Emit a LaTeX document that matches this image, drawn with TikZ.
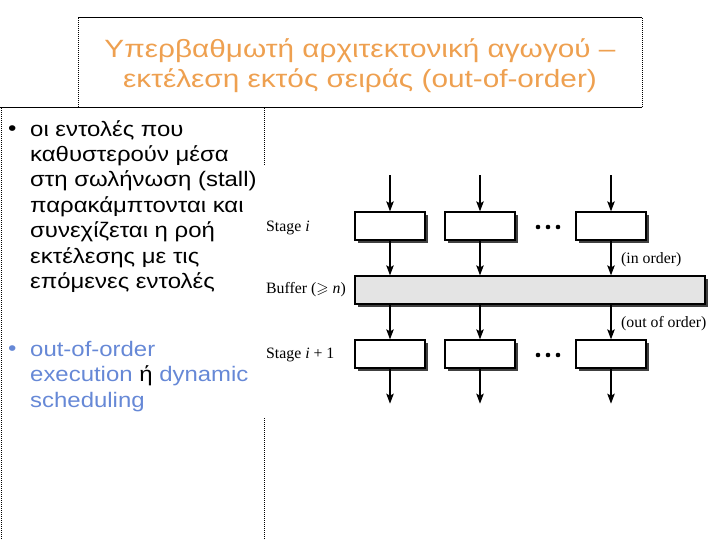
\documentclass[tikz,border=0pt]{standalone}
\usepackage{amssymb}
\usepackage{fontspec}
\setmainfont{Liberation Sans}
\newfontfamily\widesans[FakeStretch=1.14]{Liberation Sans}
\newfontfamily\ttlsans[FakeStretch=1.19]{Liberation Sans}
\newfontfamily\tms{Liberation Serif}
\usetikzlibrary{arrows.meta,shadows}
\definecolor{ttlorange}{RGB}{238,160,80}
\definecolor{txtblue}{RGB}{102,136,214}
\definecolor{bufgray}{RGB}{228,228,228}
\tikzset{
  frameline/.style={line width=1pt},
  dotline/.style={line width=1pt, dash pattern=on 1pt off 1pt},
  stagebox/.style={draw, line width=1.3pt, fill=white, minimum width=70pt, minimum height=28pt, inner sep=0pt,
     copy shadow={shadow xshift=3pt, shadow yshift=-3pt, fill=black!75, draw=none}},
  bufbox/.style={draw, line width=1.3pt, fill=bufgray, minimum width=350pt, minimum height=28pt, inner sep=0pt,
     copy shadow={shadow xshift=3pt, shadow yshift=-3pt, fill=black!75, draw=none}},
  flow/.style={line width=1.1pt, -{Stealth[length=10pt,width=7.5pt,inset=2pt]}},
  lbl/.style={font=\tms\fontsize{15.8}{18}\selectfont, inner sep=0pt},
  bodytext/.style={font=\widesans\fontsize{21}{25.4}\selectfont, inner sep=0pt},
  bigdot/.style={circle, fill=black, inner sep=0pt, minimum size=4.6pt}
}
\begin{document}
\begin{tikzpicture}[x=1pt,y=-1pt]
\useasboundingbox (0,0) rectangle (720,540);
% title frame
\draw[frameline] (78,18) -- (642,18);
\draw[frameline] (0,108) -- (642,108);
\draw[dotline] (78,18) -- (78,108);
\draw[dotline] (642,18) -- (642,108);
% text frame
\draw[dotline] (1,108) -- (1,540);
\draw[dotline] (264,108) -- (264,166);
\draw[dotline] (264,418) -- (264,540);
% title
\node[ttlorange, align=center, font=\ttlsans\fontsize{25}{30}\selectfont, inner sep=0pt] (title) at (360,66)
  {Υπερβαθμωτή αρχιτεκτονική αγωγού –\\εκτέλεση εκτός σειράς (out-of-order)};
% bullets
\node[bodytext, anchor=west] (b1) at (8,131) {•};
\node[bodytext, align=left, anchor=north west] (t1) at (30,120)
  {οι εντολές που\\καθυστερούν μέσα\\στη σωλήνωση (stall)\\παρακάμπτονται και\\συνεχίζεται η ροή\\εκτέλεσης με τις\\επόμενες εντολές};
\node[bodytext, txtblue, anchor=west] (b2) at (8,351) {•};
\node[bodytext, txtblue, align=left, anchor=north west] (t2) at (30,341)
  {out-of-order\\execution \textcolor{black}{ή} dynamic\\scheduling};
% diagram
\node[stagebox] (s1a) at (390,226) {};
\node[stagebox] (s1b) at (480,226) {};
\node[stagebox] (s1c) at (611,226) {};
\node[bufbox] (buf) at (530,290) {};
\node[stagebox] (s2a) at (390,354) {};
\node[stagebox] (s2b) at (480,354) {};
\node[stagebox] (s2c) at (611,354) {};
\foreach \x [count=\k] in {538,548,558}{
  \node[bigdot] (da\k) at (\x,227) {};
  \node[bigdot] (db\k) at (\x,355) {};
}
\node[lbl, anchor=west] (l1) at (266,228) {Stage \textit{i}};
\node[lbl, anchor=west] (l2) at (266,290) {Buffer ($\geqslant$ \textit{n})};
\node[lbl, anchor=west] (l3) at (266,355) {Stage \textit{i} + 1};
\node[lbl, anchor=west] (l4) at (621,260) {(in order)};
\node[lbl, anchor=west] (l5) at (621,324) {(out of order)};
\foreach \n in {s1a,s1b,s1c}{
  \coordinate (top-\n) at ([yshift=36pt]\n.north);
  \draw[flow] (top-\n) -- (\n.north);
  \draw[flow] (\n.south) -- (\n.south |- buf.north);
}
\foreach \n in {s2a,s2b,s2c}{
  \coordinate (bot-\n) at ([yshift=-35pt]\n.south);
  \draw[flow] (\n.north |- buf.south) -- (\n.north);
  \draw[flow] (\n.south) -- (bot-\n);
}
\end{tikzpicture}
\end{document}
